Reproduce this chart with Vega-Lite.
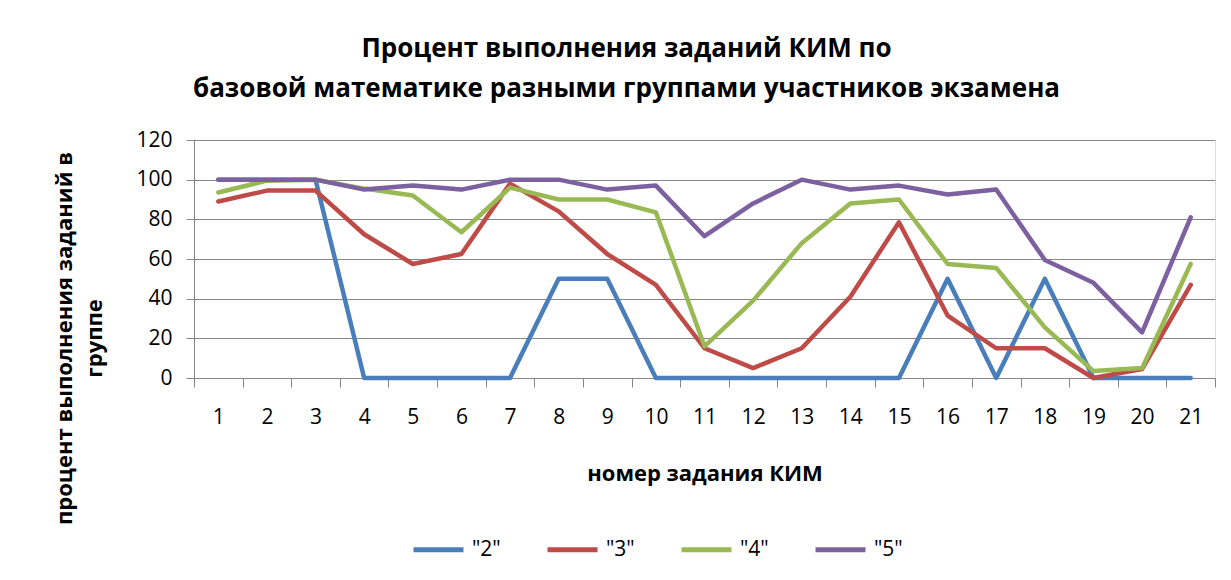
{
  "$schema": "https://vega.github.io/schema/vega-lite/v6.json",
  "autosize": {"type": "none"},
  "width": 1021,
  "height": 238,
  "padding": {"left": 194, "top": 140, "right": 16, "bottom": 202},
  "background": "white",
  "title": {
    "text": ["Процент выполнения заданий КИМ по", "базовой математике разными группами участников экзамена"],
    "anchor": "middle",
    "frame": "group",
    "dx": -78,
    "offset": 27,
    "font": "Open Sans",
    "fontSize": 26,
    "fontWeight": "bold",
    "lineHeight": 40,
    "color": "#000000"
  },
  "data": {
    "values": [
      {"task": 1, "group": "\"2\"", "value": 100}, {"task": 2, "group": "\"2\"", "value": 100}, {"task": 3, "group": "\"2\"", "value": 100},
      {"task": 4, "group": "\"2\"", "value": 0}, {"task": 5, "group": "\"2\"", "value": 0}, {"task": 6, "group": "\"2\"", "value": 0},
      {"task": 7, "group": "\"2\"", "value": 0}, {"task": 8, "group": "\"2\"", "value": 50}, {"task": 9, "group": "\"2\"", "value": 50},
      {"task": 10, "group": "\"2\"", "value": 0}, {"task": 11, "group": "\"2\"", "value": 0}, {"task": 12, "group": "\"2\"", "value": 0},
      {"task": 13, "group": "\"2\"", "value": 0}, {"task": 14, "group": "\"2\"", "value": 0}, {"task": 15, "group": "\"2\"", "value": 0},
      {"task": 16, "group": "\"2\"", "value": 50}, {"task": 17, "group": "\"2\"", "value": 0}, {"task": 18, "group": "\"2\"", "value": 50},
      {"task": 19, "group": "\"2\"", "value": 0}, {"task": 20, "group": "\"2\"", "value": 0}, {"task": 21, "group": "\"2\"", "value": 0},

      {"task": 1, "group": "\"3\"", "value": 89}, {"task": 2, "group": "\"3\"", "value": 94.5}, {"task": 3, "group": "\"3\"", "value": 94.5},
      {"task": 4, "group": "\"3\"", "value": 72.5}, {"task": 5, "group": "\"3\"", "value": 57.5}, {"task": 6, "group": "\"3\"", "value": 62.5},
      {"task": 7, "group": "\"3\"", "value": 98}, {"task": 8, "group": "\"3\"", "value": 84}, {"task": 9, "group": "\"3\"", "value": 62.5},
      {"task": 10, "group": "\"3\"", "value": 47}, {"task": 11, "group": "\"3\"", "value": 15}, {"task": 12, "group": "\"3\"", "value": 5},
      {"task": 13, "group": "\"3\"", "value": 15}, {"task": 14, "group": "\"3\"", "value": 41}, {"task": 15, "group": "\"3\"", "value": 78.5},
      {"task": 16, "group": "\"3\"", "value": 31.5}, {"task": 17, "group": "\"3\"", "value": 15}, {"task": 18, "group": "\"3\"", "value": 15},
      {"task": 19, "group": "\"3\"", "value": 0}, {"task": 20, "group": "\"3\"", "value": 4.5}, {"task": 21, "group": "\"3\"", "value": 47},

      {"task": 1, "group": "\"4\"", "value": 93.5}, {"task": 2, "group": "\"4\"", "value": 99.5}, {"task": 3, "group": "\"4\"", "value": 100},
      {"task": 4, "group": "\"4\"", "value": 95.5}, {"task": 5, "group": "\"4\"", "value": 92}, {"task": 6, "group": "\"4\"", "value": 73.5},
      {"task": 7, "group": "\"4\"", "value": 96}, {"task": 8, "group": "\"4\"", "value": 90}, {"task": 9, "group": "\"4\"", "value": 90},
      {"task": 10, "group": "\"4\"", "value": 83.5}, {"task": 11, "group": "\"4\"", "value": 16}, {"task": 12, "group": "\"4\"", "value": 39},
      {"task": 13, "group": "\"4\"", "value": 68}, {"task": 14, "group": "\"4\"", "value": 88}, {"task": 15, "group": "\"4\"", "value": 90},
      {"task": 16, "group": "\"4\"", "value": 57.5}, {"task": 17, "group": "\"4\"", "value": 55.5}, {"task": 18, "group": "\"4\"", "value": 25.5},
      {"task": 19, "group": "\"4\"", "value": 3.5}, {"task": 20, "group": "\"4\"", "value": 5}, {"task": 21, "group": "\"4\"", "value": 57.5},

      {"task": 1, "group": "\"5\"", "value": 100}, {"task": 2, "group": "\"5\"", "value": 100}, {"task": 3, "group": "\"5\"", "value": 100},
      {"task": 4, "group": "\"5\"", "value": 95}, {"task": 5, "group": "\"5\"", "value": 97}, {"task": 6, "group": "\"5\"", "value": 95},
      {"task": 7, "group": "\"5\"", "value": 100}, {"task": 8, "group": "\"5\"", "value": 100}, {"task": 9, "group": "\"5\"", "value": 95},
      {"task": 10, "group": "\"5\"", "value": 97}, {"task": 11, "group": "\"5\"", "value": 71.5}, {"task": 12, "group": "\"5\"", "value": 88},
      {"task": 13, "group": "\"5\"", "value": 100}, {"task": 14, "group": "\"5\"", "value": 95}, {"task": 15, "group": "\"5\"", "value": 97},
      {"task": 16, "group": "\"5\"", "value": 92.5}, {"task": 17, "group": "\"5\"", "value": 95}, {"task": 18, "group": "\"5\"", "value": 59.5},
      {"task": 19, "group": "\"5\"", "value": 48}, {"task": 20, "group": "\"5\"", "value": 23}, {"task": 21, "group": "\"5\"", "value": 81}
    ]
  },
  "mark": {"type": "line", "strokeWidth": 4.5, "strokeJoin": "round", "strokeCap": "round"},
  "encoding": {
    "x": {
      "field": "task",
      "type": "ordinal",
      "bandPosition": 0.5,
      "scale": {"type": "band", "paddingInner": 0, "paddingOuter": 0},
      "axis": {
        "title": "номер задания КИМ",
        "titleFont": "Open Sans",
        "titleFontSize": 22,
        "titleFontWeight": "bold",
        "titleColor": "#000000",
        "titlePadding": 36,
        "labelAngle": 0,
        "labelFont": "Open Sans",
        "labelFontSize": 21,
        "labelColor": "#000000",
        "labelPadding": 19,
        "tickBand": "extent",
        "tickSize": 9,
        "tickColor": "#868686",
        "domainColor": "#868686",
        "grid": false
      }
    },
    "y": {
      "field": "value",
      "type": "quantitative",
      "scale": {"domain": [0, 120], "nice": false},
      "axis": {
        "values": [0, 20, 40, 60, 80, 100, 120],
        "title": ["процент выполнения заданий в", "группе"],
        "titleFont": "Open Sans",
        "titleFontSize": 22,
        "titleFontWeight": "bold",
        "titleColor": "#000000",
        "titleAngle": 270,
        "titleAlign": "center",
        "titleBaseline": "middle",
        "titleLineHeight": 30,
        "titleX": -130,
        "titleY": 198,
        "labelFont": "Open Sans",
        "labelFontSize": 21,
        "labelColor": "#000000",
        "labelPadding": 14,
        "tickSize": 8,
        "tickColor": "#868686",
        "domainColor": "#868686",
        "grid": true,
        "gridColor": "#868686",
        "gridWidth": 1
      }
    },
    "color": {
      "field": "group",
      "type": "nominal",
      "scale": {"domain": ["\"2\"", "\"3\"", "\"4\"", "\"5\""], "range": ["#4A7EBB", "#BE4B48", "#98B954", "#7D60A0"]},
      "legend": {
        "title": null,
        "orient": "none",
        "legendX": 217,
        "legendY": 382,
        "direction": "horizontal",
        "symbolType": "stroke",
        "symbolSize": 2500,
        "symbolStrokeWidth": 5,
        "labelFont": "Open Sans",
        "labelFontSize": 21,
        "labelColor": "#000000",
        "labelOffset": 6,
        "columnPadding": 36
      }
    }
  }
}
